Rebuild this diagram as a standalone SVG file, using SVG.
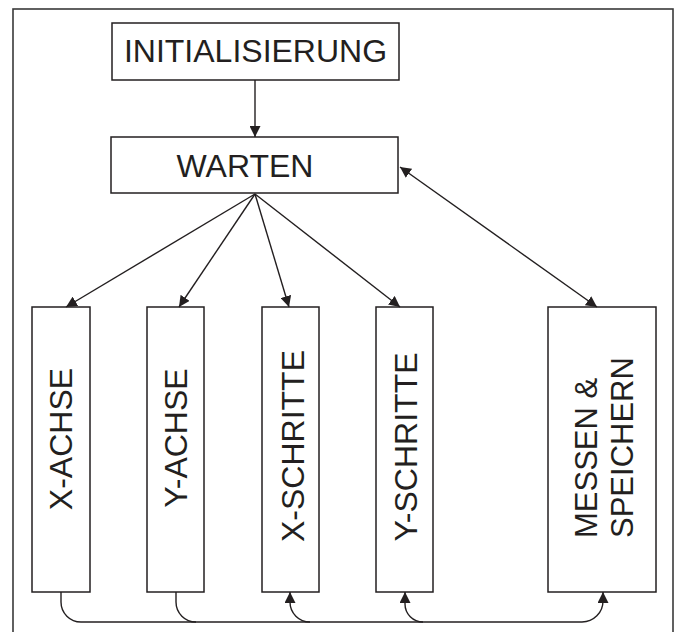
<svg xmlns="http://www.w3.org/2000/svg" width="680" height="632" viewBox="0 0 680 632">
<style>
.box{fill:#fff;stroke:#231f20;stroke-width:1.5}
.lbl{font-family:"Liberation Sans",Arial,sans-serif;font-size:32px;fill:#231f20}
.con{fill:none;stroke:#231f20;stroke-width:1.4}
</style>
<defs>
<marker id="ah" markerUnits="userSpaceOnUse" markerWidth="11" markerHeight="11" refX="10" refY="5" orient="auto-start-reverse" viewBox="0 0 10 10">
<path d="M0,0 L10,5 L0,10 z" fill="#231f20"/>
</marker>
</defs>
<rect x="0" y="0" width="680" height="632" fill="#fff"/>
<rect id="frame" x="13" y="9" width="660" height="640" fill="none" stroke="#3a3a3a" stroke-width="1.6"/>

<g id="init">
<rect class="box" x="112" y="23" width="287" height="57"/>
<text class="lbl" x="255.5" y="62" text-anchor="middle">INITIALISIERUNG</text>
</g>
<g id="warten">
<rect class="box" x="111" y="137" width="287" height="56"/>
<text class="lbl" x="245" y="177" text-anchor="middle">WARTEN</text>
</g>
<g id="x-achse">
<rect class="box" x="32" y="307" width="58" height="285"/>
<text class="lbl" transform="translate(72,439) rotate(-90)" text-anchor="middle">X-ACHSE</text>
</g>
<g id="y-achse">
<rect class="box" x="147" y="307" width="57" height="285"/>
<text class="lbl" transform="translate(187,438) rotate(-90)" text-anchor="middle">Y-ACHSE</text>
</g>
<g id="x-schritte">
<rect class="box" x="262" y="307" width="57" height="285"/>
<text class="lbl" transform="translate(304,446) rotate(-90)" text-anchor="middle">X-SCHRITTE</text>
</g>
<g id="y-schritte">
<rect class="box" x="376" y="307" width="57" height="285"/>
<text class="lbl" transform="translate(417,447) rotate(-90)" text-anchor="middle">Y-SCHRITTE</text>
</g>
<g id="messen">
<rect class="box" x="548" y="307" width="108" height="285"/>
<text class="lbl" style="font-size:31px" transform="translate(597,538) rotate(-90)">MESSEN &amp;</text>
<text class="lbl" style="font-size:31px" transform="translate(633,538) rotate(-90)">SPEICHERN</text>
</g>

<g id="connectors">
<line class="con" x1="255" y1="80" x2="255" y2="137" marker-end="url(#ah)"/>
<line class="con" x1="255" y1="194" x2="66" y2="307" marker-end="url(#ah)"/>
<line class="con" x1="255" y1="194" x2="179" y2="307" marker-end="url(#ah)"/>
<line class="con" x1="255" y1="194" x2="289" y2="307" marker-end="url(#ah)"/>
<line class="con" x1="255" y1="194" x2="400" y2="307" marker-end="url(#ah)"/>
<line class="con" x1="400" y1="167" x2="597" y2="307" marker-start="url(#ah)" marker-end="url(#ah)"/>
<path class="con" d="M61,592 V602 A20,20 0 0 0 81,622 H582 A21,21 0 0 0 603,601 V592" marker-end="url(#ah)"/>
<path class="con" d="M176,592 V602 A20,20 0 0 0 196,622"/>
<path class="con" d="M310,622 A20,20 0 0 1 290,602 V592" marker-end="url(#ah)"/>
<path class="con" d="M423,622 A18,18 0 0 1 405,604 V592" marker-end="url(#ah)"/>
</g>
</svg>
